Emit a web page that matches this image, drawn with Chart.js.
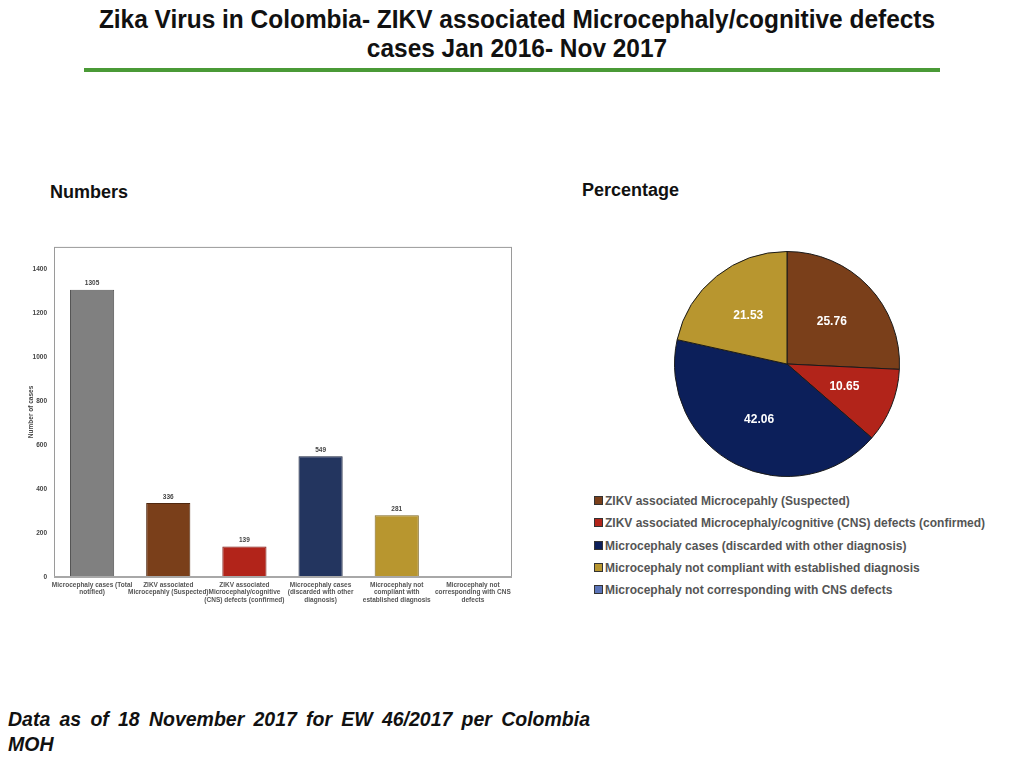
<!DOCTYPE html>
<html>
<head>
<meta charset="utf-8">
<script src="https://cdn.jsdelivr.net/npm/chart.js@4.4.1/dist/chart.umd.min.js"></script>
<style>
  html, body { margin: 0; padding: 0; background: #fff; }
  body { width: 1024px; height: 768px; position: relative; overflow: hidden; font-family: "Liberation Sans", Arial, sans-serif; }
  .title {
    position: absolute; left: 5px; top: 5px; width: 1024px; text-align: center;
    font-weight: bold; font-size: 26px; line-height: 29px; color: #111;
    transform: scaleX(0.94); transform-origin: 50% 0;
  }
  .rule { position: absolute; left: 84px; top: 68px; width: 856px; height: 4px; background: #4a9a36; }
  .sub { position: absolute; font-weight: bold; font-size: 18px; color: #111; }
  #barWrap { position: absolute; left: 20px; top: 236px; width: 496px; height: 376px; }
  #pieWrap { position: absolute; left: 672px; top: 249px; width: 230px; height: 230px; }
  #legend { position: absolute; left: 594px; top: 490px; }
  #legend div { height: 22.3px; line-height: 22px; font-weight: bold; font-size: 12px; color: #555; white-space: nowrap; }
  #legend span.sw { display: inline-block; width: 7px; height: 7px; border: 1px solid #333; margin-right: 2px; vertical-align: 0px; }
  .foot {
    position: absolute; left: 8px; width: 582px;
    font-weight: bold; font-style: italic; font-size: 19.5px; line-height: 25px; color: #111;
  }
  .foot.l1 { top: 707px; text-align: justify; text-align-last: justify; }
  .foot.l2 { top: 732px; }
</style>
</head>
<body>
<div class="title">Zika Virus in Colombia- ZIKV associated Microcephaly/cognitive defects<br>cases Jan 2016- Nov 2017</div>
<div class="rule"></div>
<div class="sub" style="left:50px; top:182px;">Numbers</div>
<div class="sub" style="left:582px; top:180px;">Percentage</div>
<div id="barWrap"><canvas id="barChart"></canvas></div>
<div id="pieWrap"><canvas id="pieChart"></canvas></div>
<div id="legend"></div>
<div class="foot l1">Data as of 18 November 2017 for EW 46/2017 per Colombia</div>
<div class="foot l2">MOH</div>

<script>
  /* ── data ── */
  const barCategories = [
    ["Microcephaly cases (Total", "notified)"],
    ["ZIKV associated", "Microcepahly (Suspected)"],
    ["ZIKV associated", "Microcephaly/cognitive", "(CNS) defects (confirmed)"],
    ["Microcephaly cases", "(discarded with other", "diagnosis)"],
    ["Microcephaly not", "compliant with", "established diagnosis"],
    ["Microcephaly not", "corresponding with CNS", "defects"],
  ];
  const barValues  = [1305, 336, 139, 549, 281, null];
  const barColors  = ["#808080", "#7a3f1a", "#b2241a", "#23355f", "#b8962f", "#5b74b8"];
  const barBorders = ["#555555", "#4f2810", "#7a1710", "#151f3a", "#7d6520", "#3b4c7a"];
  const yTicksMax  = 1400;
  const yAxisMax   = 1500;

  const pieLabels = [
    "ZIKV associated Microcepahly (Suspected)",
    "ZIKV associated Microcephaly/cognitive (CNS) defects (confirmed)",
    "Microcephaly cases (discarded with other diagnosis)",
    "Microcephaly not compliant with established diagnosis",
    "Microcephaly not corresponding with CNS defects",
  ];
  const pieValues = [25.76, 10.65, 42.06, 21.53, 0];
  const pieColors = ["#7a3f1a", "#b2241a", "#0c1f5a", "#b8962f", "#5b74b8"];

  const smallFont = "'Liberation Sans', Arial, sans-serif";

  /* ── plugins ── */
  const plotBox = {
    id: "plotBox",
    afterDraw(chart) {
      const { ctx, chartArea: a } = chart;
      ctx.save();
      ctx.strokeStyle = "#9a9a9a";
      ctx.lineWidth = 1;
      ctx.strokeRect(a.left + 0.5, a.top + 0.5, a.right - a.left, a.bottom - a.top);
      ctx.lineWidth = 2;
      ctx.strokeStyle = "#a8a8a8";
      ctx.beginPath();
      ctx.moveTo(a.left, a.bottom);
      ctx.lineTo(a.right + 1, a.bottom);
      ctx.stroke();
      ctx.restore();
    },
  };

  const barValueLabels = {
    id: "barValueLabels",
    afterDatasetsDraw(chart) {
      const { ctx } = chart;
      const meta = chart.getDatasetMeta(0);
      ctx.save();
      ctx.font = "bold 6.5px " + smallFont;
      ctx.fillStyle = "#444";
      ctx.textAlign = "center";
      ctx.textBaseline = "bottom";
      meta.data.forEach((bar, i) => {
        if (barValues[i] == null) return;
        ctx.fillText(String(barValues[i]), bar.x, bar.y - 3);
      });
      ctx.restore();
    },
  };

  const pieValueLabels = {
    id: "pieValueLabels",
    afterDatasetsDraw(chart) {
      const { ctx } = chart;
      const meta = chart.getDatasetMeta(0);
      ctx.save();
      ctx.font = "bold 12px " + smallFont;
      ctx.fillStyle = "#fff";
      ctx.textAlign = "center";
      ctx.textBaseline = "middle";
      meta.data.forEach((arc, i) => {
        if (!pieValues[i]) return;
        const mid = (arc.startAngle + arc.endAngle) / 2;
        const r = arc.outerRadius * 0.55;
        ctx.fillText(pieValues[i].toFixed(2), arc.x + Math.cos(mid) * r, arc.y + Math.sin(mid) * r);
      });
      ctx.restore();
    },
  };

  /* ── bar chart ── */
  new Chart(document.getElementById("barChart"), {
    type: "bar",
    data: {
      labels: barCategories,
      datasets: [{
        data: barValues,
        backgroundColor: barColors,
        borderColor: barBorders,
        borderWidth: 1,
        barPercentage: 0.58,
        categoryPercentage: 1,
      }],
    },
    options: {
      responsive: true,
      maintainAspectRatio: false,
      animation: false,
      layout: { padding: { top: 10, right: 5, left: 0, bottom: 0 } },
      plugins: { legend: { display: false }, tooltip: { enabled: false } },
      scales: {
        x: {
          grid: { display: false, drawTicks: false },
          border: { display: false },
          ticks: {
            maxRotation: 0, minRotation: 0, autoSkip: false, padding: 4,
            color: "#555",
            font: { size: 6.5, weight: "bold", family: smallFont, lineHeight: 1.2 },
          },
          afterFit: (s) => { s.height = 35; },
        },
        y: {
          min: 0,
          max: yAxisMax,
          grid: { display: false, drawTicks: false },
          border: { display: false },
          title: {
            display: true, text: "Number of cases", color: "#444", padding: { top: 7, bottom: 0 },
            font: { size: 6.5, weight: "bold", family: smallFont },
          },
          ticks: {
            stepSize: 200, padding: 7, color: "#444",
            font: { size: 6.5, weight: "bold", family: smallFont },
            callback: (v) => (v > yTicksMax ? "" : v),
          },
          afterFit: (s) => { s.width = 34; },
        },
      },
    },
    plugins: [plotBox, barValueLabels],
  });

  /* ── pie chart ── */
  new Chart(document.getElementById("pieChart"), {
    type: "pie",
    data: {
      labels: pieLabels,
      datasets: [{
        data: pieValues,
        backgroundColor: pieColors,
        borderColor: "#1a1a1a",
        borderWidth: 1,
      }],
    },
    options: {
      responsive: true,
      maintainAspectRatio: false,
      animation: false,
      layout: { padding: 2 },
      plugins: { legend: { display: false }, tooltip: { enabled: false } },
    },
    plugins: [pieValueLabels],
  });

  /* ── legend ── */
  document.getElementById("legend").innerHTML = pieLabels
    .map((l, i) => `<div><span class="sw" style="background:${pieColors[i]}"></span>${l}</div>`)
    .join("");
</script>
</body>
</html>
